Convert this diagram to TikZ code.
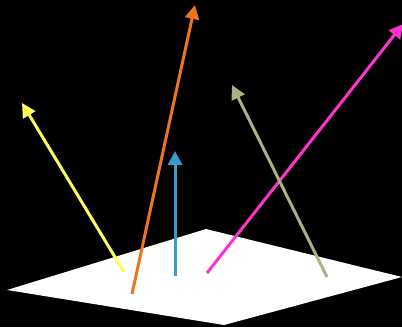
\documentclass[tikz,border=0pt]{standalone}
\usepackage{tikz}
\usetikzlibrary{arrows.meta}

\definecolor{rayyellow}{RGB}{255,255,85}
\definecolor{rayorange}{RGB}{240,115,30}
\definecolor{rayblue}{RGB}{60,155,205}
\definecolor{raypink}{RGB}{255,50,205}
\definecolor{rayolive}{RGB}{170,178,128}

\begin{document}
\begin{tikzpicture}[
        x=1pt, y=-1pt,
        ray/.style={line width=3pt, -{Triangle[length=14pt, width=14pt]}},
        >=Latex
    ]
        \fill[black] (0,0) rectangle (402,327);
        \useasboundingbox (0,0) rectangle (402,327);

        % the surface
        \coordinate (sl) at (7,290);
        \coordinate (st) at (206,229);
        \coordinate (sr) at (402,277);
        \coordinate (sb) at (224,325);
        \fill[white] (sl) -- (st) -- (sr) -- (sb) -- cycle;

        % foot and tip of each ray
        \coordinate (yf) at (124,272);
        \coordinate (yt) at (22,103);
        \coordinate (of) at (132,294);
        \coordinate (ot) at (195,5);
        \coordinate (bf) at (175,276);
        \coordinate (bt) at (175,151);
        \coordinate (pf) at (207,273);
        \coordinate (pt) at (403,24);
        \coordinate (gf) at (327,277);
        \coordinate (gt) at (232,85);

        \draw[ray, rayyellow] (yf) -- (yt);
        \draw[ray, rayorange] (of) -- (ot);
        \draw[ray, rayblue] (bf) -- (bt);
        \draw[ray, raypink] (pf) -- (pt);
        \draw[ray, rayolive] (gf) -- (gt);
    \end{tikzpicture}
\end{document}
